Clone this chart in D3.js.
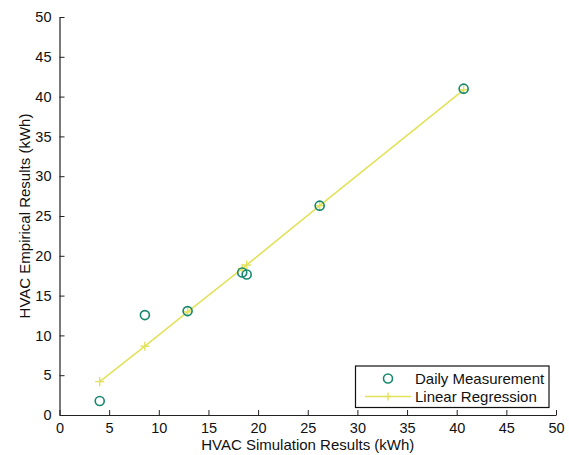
<!DOCTYPE html>
<html><head><meta charset="utf-8">
<script src="https://cdn.jsdelivr.net/npm/d3@7"></script>
<style>body{margin:0;background:#fff}svg{display:block}text{font-family:"Liberation Sans",Arial,sans-serif}</style>
</head><body><svg id="c" width="569" height="455"></svg>
<script>
const measX = [4.05, 8.6, 12.9, 18.4, 18.85, 26.2, 40.7];
const measY = [1.75, 12.55, 13.05, 17.9, 17.65, 26.3, 41.0];
const regX = [4.05, 8.6, 12.9, 18.4, 18.85, 26.2, 40.7];
const regY = [4.2, 8.65, 12.95, 18.4, 18.85, 26.3, 40.85];
const xTicks = [0,5,10,15,20,25,30,35,40,45,50];
const yTicks = [0,5,10,15,20,25,30,35,40,45,50];
const seriesNames = ["Daily Measurement", "Linear Regression"];
const xTitle = "HVAC Simulation Results (kWh)";
const yTitle = "HVAC Empirical Results (kWh)";

const circColor = "#16886f", lineColor = "#e2e25c";
const svg = d3.select("#c");
const L = 59.5, R = 556, T = 17, B = 415;
const x = d3.scaleLinear().domain([0,50]).range([L,R]);
const y = d3.scaleLinear().domain([0,50]).range([B,T]);

const gx = svg.append("g").attr("transform",`translate(0,${B})`)
  .call(d3.axisBottom(x).tickValues(xTicks).tickFormat(d3.format("d")).tickSizeInner(-5).tickSizeOuter(0).tickPadding(8));
const gy = svg.append("g").attr("transform",`translate(${L},0)`)
  .call(d3.axisLeft(y).tickValues(yTicks).tickFormat(d3.format("d")).tickSizeInner(-5).tickSizeOuter(0).tickPadding(8));
[gx,gy].forEach(g=>{
  g.select(".domain").attr("stroke","#222").attr("stroke-width",1.2);
  g.selectAll(".tick line").attr("stroke","#222");
  g.selectAll(".tick text").attr("font-size",14.5).attr("fill","#111").attr("font-family","Liberation Sans, Arial, sans-serif");
});

svg.append("text").attr("x",(L+R)/2).attr("y",449.5).attr("text-anchor","middle")
  .attr("font-size",15).attr("fill","#111").text(xTitle);
svg.append("text").attr("transform",`translate(30,${(T+B)/2}) rotate(-90)`).attr("text-anchor","middle")
  .attr("font-size",15).attr("fill","#111").text(yTitle);

const reg = regX.map((v,i)=>[v,regY[i]]);
svg.append("path").datum(reg).attr("fill","none").attr("stroke",lineColor).attr("stroke-width",1.6)
  .attr("d",d3.line().x(d=>x(d[0])).y(d=>y(d[1])));
svg.selectAll(".pl").data(reg).join("g").attr("transform",d=>`translate(${x(d[0])},${y(d[1])})`)
  .each(function(){const g=d3.select(this);
    g.append("line").attr("x1",-4.5).attr("x2",4.5).attr("stroke",lineColor).attr("stroke-width",1.4);
    g.append("line").attr("y1",-4.5).attr("y2",4.5).attr("stroke",lineColor).attr("stroke-width",1.4);});

svg.selectAll(".ci").data(measX.map((v,i)=>[v,measY[i]])).join("circle")
  .attr("cx",d=>x(d[0])).attr("cy",d=>y(d[1])).attr("r",4.5)
  .attr("fill","none").attr("stroke",circColor).attr("stroke-width",1.6);

// legend
const lg = svg.append("g");
lg.append("rect").attr("x",355.5).attr("y",366).attr("width",193.5).attr("height",41.5)
  .attr("fill","#fff").attr("stroke","#111").attr("stroke-width",1.2);
lg.append("circle").attr("cx",388).attr("cy",378.5).attr("r",4.5).attr("fill","none").attr("stroke",circColor).attr("stroke-width",1.6);
lg.append("line").attr("x1",365).attr("x2",411).attr("y1",396.5).attr("y2",396.5).attr("stroke",lineColor).attr("stroke-width",1.6);
lg.append("line").attr("x1",384).attr("x2",392).attr("y1",396.5).attr("y2",396.5).attr("stroke",lineColor).attr("stroke-width",1.4);
lg.append("line").attr("x1",388).attr("x2",388).attr("y1",392.5).attr("y2",400.5).attr("stroke",lineColor).attr("stroke-width",1.4);
lg.append("text").attr("x",415).attr("y",384).attr("font-size",15).attr("fill","#111").text(seriesNames[0]);
lg.append("text").attr("x",415).attr("y",402).attr("font-size",15).attr("fill","#111").text(seriesNames[1]);
</script></body></html>
